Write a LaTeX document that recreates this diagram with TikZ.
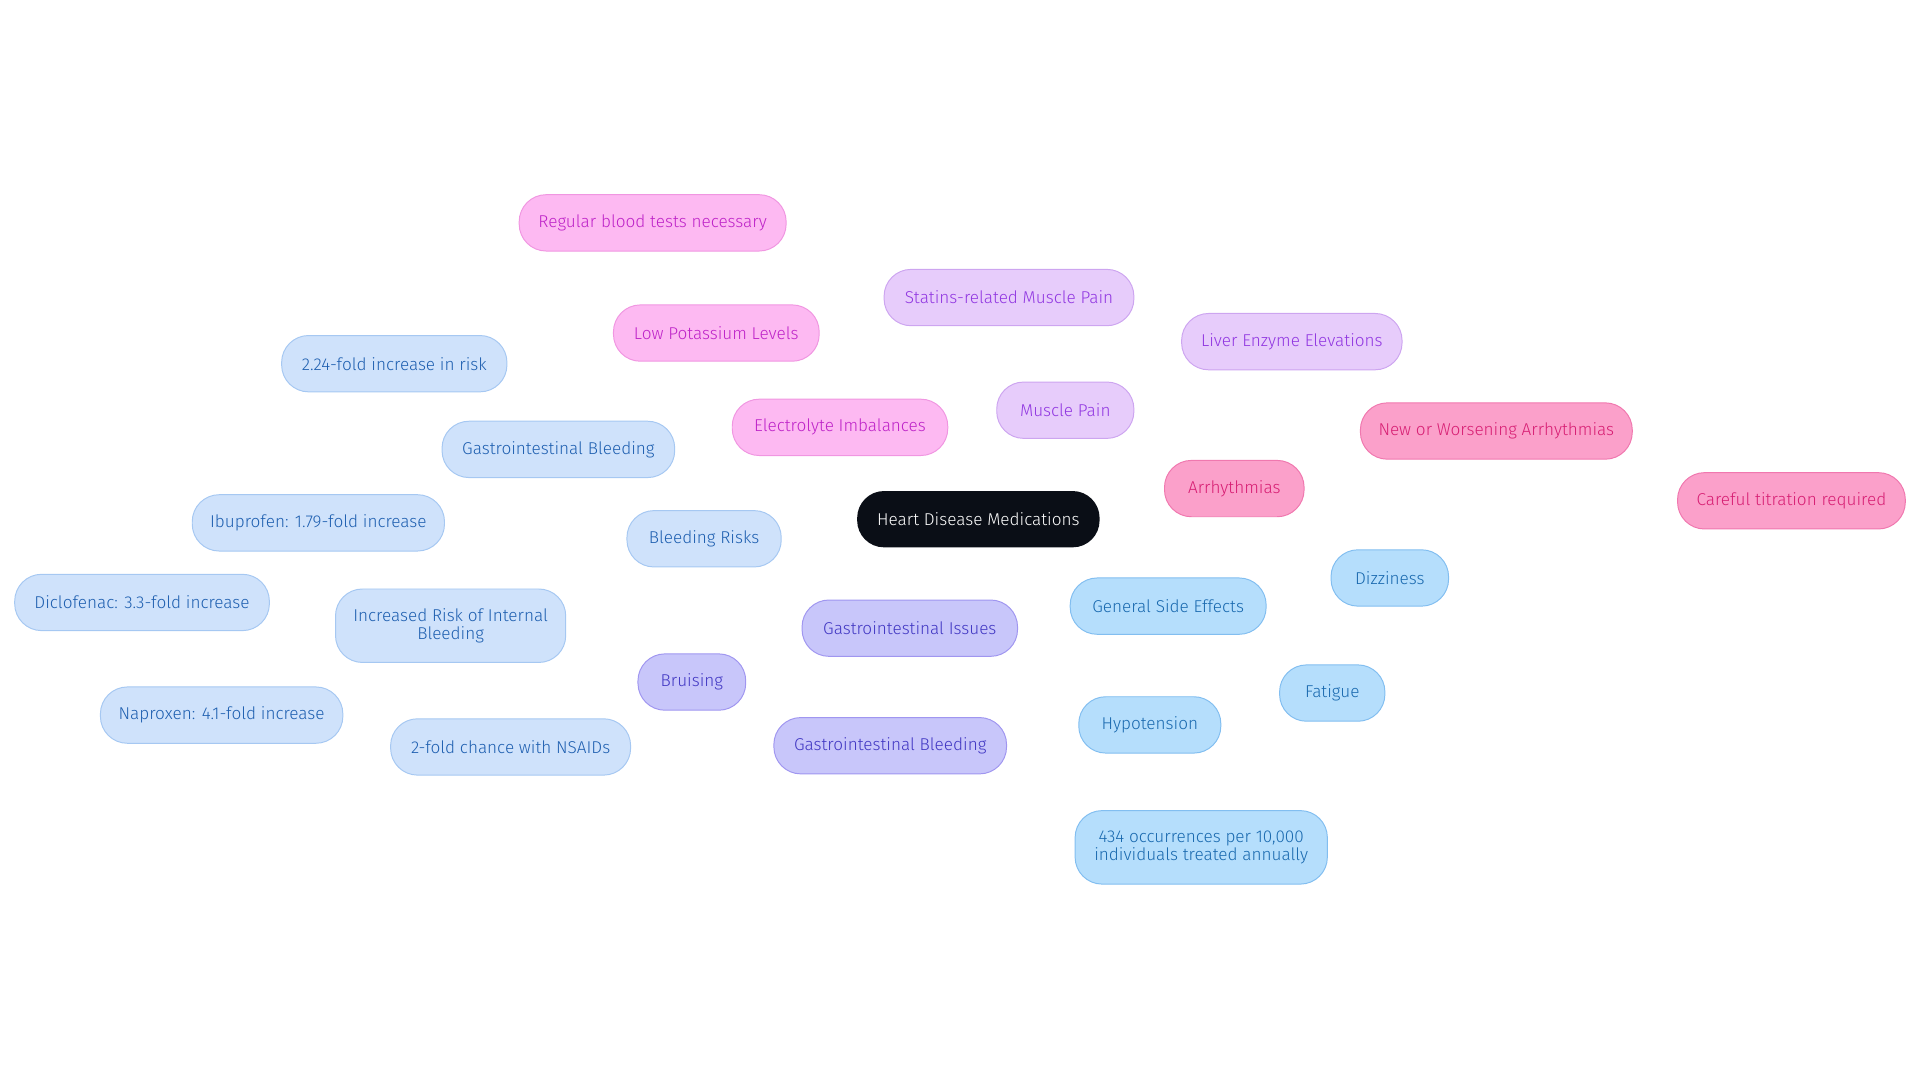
\documentclass[tikz,border=0pt]{standalone}
\usepackage{fontspec}
\setmainfont{Fira Sans Light}
\begin{document}
\begin{tikzpicture}[x=0.5pt,y=-0.5pt,
 base/.style={rounded corners=11pt,minimum height=23pt,inner sep=1pt,align=center,font=\fontsize{7}{7.4}\selectfont,line width=0.4pt},
 blu/.style={base,fill=blue!4!cyan!8!white,fill={rgb,255:red,207;green,226;blue,251},draw={rgb,255:red,166;green,200;blue,242},text={rgb,255:red,30;green,95;blue,176}},
 sky/.style={base,fill={rgb,255:red,181;green,222;blue,252},draw={rgb,255:red,130;green,190;blue,240},text={rgb,255:red,25;green,105;blue,175}},
 pnk/.style={base,fill={rgb,255:red,253;green,185;blue,242},draw={rgb,255:red,240;green,150;blue,225},text={rgb,255:red,190;green,35;blue,200}},
 lav/.style={base,fill={rgb,255:red,231;green,204;blue,251},draw={rgb,255:red,205;green,165;blue,240},text={rgb,255:red,145;green,55;blue,225}},
 ros/.style={base,fill={rgb,255:red,251;green,160;blue,202},draw={rgb,255:red,240;green,120;blue,175},text={rgb,255:red,215;green,30;blue,115}},
 ind/.style={base,fill={rgb,255:red,200;green,198;blue,250},draw={rgb,255:red,160;green,150;blue,240},text={rgb,255:red,65;green,55;blue,195}},
 cb/.style={draw={rgb,255:red,130;green,180;blue,235},line width=0.7pt},
 cs/.style={draw={rgb,255:red,110;green,185;blue,240},line width=0.7pt},
 cp/.style={draw={rgb,255:red,240;green,130;blue,220},line width=0.7pt},
 cl/.style={draw={rgb,255:red,195;green,140;blue,245},line width=0.7pt},
 cr/.style={draw={rgb,255:red,235;green,105;blue,160},line width=0.7pt},
 ci/.style={draw={rgb,255:red,140;green,125;blue,235},line width=0.7pt}]
\useasboundingbox (0,0) rectangle (1568,884);
% connectors first
\coordinate (c0) at (799,424);
\path (c0) coordinate (cc);
\node[base,fill={rgb,255:red,10;green,14;blue,22},text=white,minimum width=99pt] (hd) at (799,424) {Heart Disease Medications};
\node[blu,minimum width=63pt] (br) at (575,440) {Bleeding Risks};
\node[blu,minimum width=95pt] (gb) at (456,367) {Gastrointestinal Bleeding};
\node[blu,minimum width=92pt] (f224) at (322,297) {2.24-fold increase in risk};
\node[blu,minimum width=94pt,minimum height=30pt] (iri) at (368,511) {Increased Risk of Internal\\Bleeding};
\node[blu,minimum width=103pt] (ibu) at (260,427) {Ibuprofen: 1.79-fold increase};
\node[blu,minimum width=104pt] (dic) at (116,492) {Diclofenac: 3.3-fold increase};
\node[blu,minimum width=99pt] (nap) at (181,584) {Naproxen: 4.1-fold increase};
\node[blu,minimum width=98pt] (nsa) at (417,610) {2-fold chance with NSAIDs};
\node[pnk,minimum width=88pt] (ei) at (686,349) {Electrolyte Imbalances};
\node[pnk,minimum width=84pt] (lp) at (585,272) {Low Potassium Levels};
\node[pnk,minimum width=109pt] (rb) at (533,182) {Regular blood tests necessary};
\node[lav,minimum width=56pt] (mp) at (870,335) {Muscle Pain};
\node[lav,minimum width=102pt] (st) at (824,243) {Statins-related Muscle Pain};
\node[lav,minimum width=90pt] (le) at (1055,279) {Liver Enzyme Elevations};
\node[ros,minimum width=57pt] (ar) at (1008,399) {Arrhythmias};
\node[ros,minimum width=111pt] (nw) at (1222,352) {New or Worsening Arrhythmias};
\node[ros,minimum width=93pt] (ct) at (1463,409) {Careful titration required};
\node[sky,minimum width=80pt] (gs) at (954,495) {General Side Effects};
\node[sky,minimum width=48pt] (dz) at (1135,472) {Dizziness};
\node[sky,minimum width=43pt] (fa) at (1088,566) {Fatigue};
\node[sky,minimum width=58pt] (hy) at (939,592) {Hypotension};
\node[sky,minimum width=103pt,minimum height=30pt] (oc) at (981,692) {434 occurrences per 10,000\\individuals treated annually};
\node[ind,minimum width=88pt] (gi) at (743,513) {Gastrointestinal Issues};
\node[ind,minimum width=44pt] (bru) at (565,557) {Bruising};
\node[ind,minimum width=95pt] (gib) at (727,609) {Gastrointestinal Bleeding};
\begin{scope}[on background layer/.style={}]
\end{scope}
\pgfsetlayers{main}
\begin{pgfonlayer}{main}\end{pgfonlayer}
\end{tikzpicture}
\end{document}
